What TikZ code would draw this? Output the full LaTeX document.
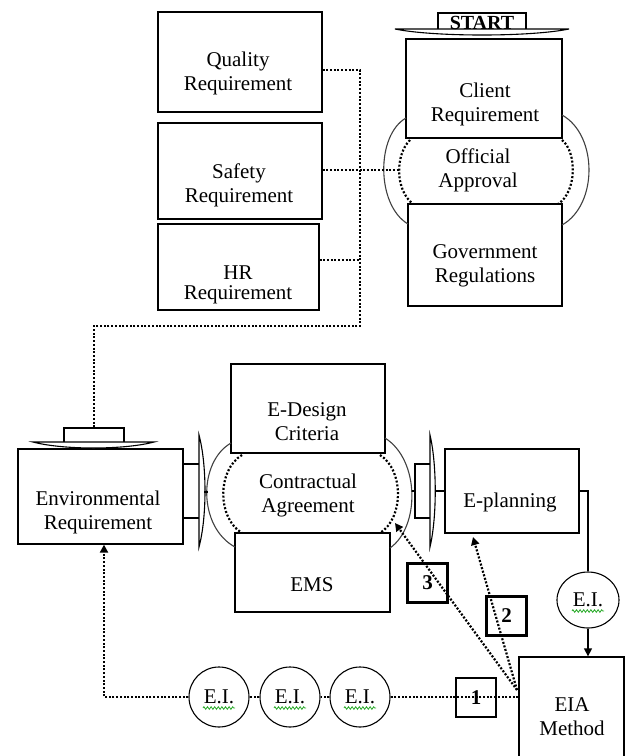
\documentclass[tikz,border=0pt]{standalone}
\usepackage{fontspec}
\setmainfont{Liberation Serif}
\usetikzlibrary{arrows.meta,decorations.pathmorphing,shapes.geometric}
\begin{document}
\begin{tikzpicture}[x=1pt,y=-1pt,
  box/.style={draw=black,line width=1.3pt,rectangle,inner sep=0pt},
  numbox/.style={draw=black,line width=2.5pt,rectangle,inner sep=0pt,minimum width=40pt,minimum height=39pt,font=\fontsize{21}{24}\selectfont\bfseries},
  lbl/.style={align=center,inner sep=0pt,font=\fontsize{21}{24}\selectfont},
  eicirc/.style={draw=black,line width=1.1pt,ellipse,inner sep=0pt,font=\fontsize{21}{24}\selectfont},
  dotline/.style={line width=2.2pt,dash pattern=on 2pt off 1.7pt},
  dotarrow/.style={dotline,-{Triangle[length=8pt,width=8pt]}},
  arcline/.style={line width=1.1pt,draw=black!75},
  arcdot/.style={line width=2.2pt,dash pattern=on 2pt off 1.9pt},
  tabst/.style={draw=black,line width=1.2pt,fill=white,rectangle,inner sep=0pt},
  wing/.style={draw=black,line width=1.1pt,fill=white},
  solidln/.style={line width=1.3pt},
  solidarrow/.style={solidln,-{Triangle[length=8pt,width=8pt]}},
  squig/.style={draw={rgb,255:red,40;green,170;blue,40},line width=0.8pt,decorate,decoration={zigzag,amplitude=1.3pt,segment length=3.6pt}}
]
\useasboundingbox (0,0) rectangle (626,756);

% ---------- boxes ----------
\node[box,minimum width=164pt,minimum height=100pt] (q)   at (240,62) {};
\node[box,minimum width=164pt,minimum height=96pt]  (s)   at (240,171) {};
\node[box,minimum width=161pt,minimum height=86pt]  (hr)  at (238.5,267) {};
\node[box,minimum width=156pt,minimum height=99pt]  (cl)  at (484,88.5) {};
\node[box,minimum width=154pt,minimum height=102pt] (gov) at (485,255) {};
\node[box,minimum width=165pt,minimum height=95pt]  (env) at (100.5,496.5) {};
\node[box,minimum width=154pt,minimum height=89pt]  (ed)  at (308,408.5) {};
\node[box,minimum width=155pt,minimum height=79pt]  (ems) at (312.5,572.5) {};
\node[box,minimum width=134pt,minimum height=84pt]  (ep)  at (512,491) {};
\node[box,minimum width=105pt,minimum height=103pt] (eia) at (571.5,708.5) {};

% ---------- texts ----------
\node[lbl] (qT)   at (238,73)  {Quality\\Requirement};
\node[lbl] (sT)   at (239,185) {Safety\\Requirement};
\node[lbl,font=\fontsize{21}{20}\selectfont] (hrT) at (238,285) {HR\\Requirement};
\node[lbl] (clT)  at (485,104) {Client\\Requirement};
\node[lbl] (oaT)  at (478,170) {Official\\Approval};
\node[lbl] (gvT)  at (485,266) {Government\\Regulations};
\node[lbl] (edT)  at (307,422) {E-Design\\Criteria};
\node[lbl] (caT)  at (308,495) {Contractual\\Agreement};
\node[lbl] (emsT) at (312,585) {EMS};
\node[lbl] (envT) at (98,512)  {Environmental\\Requirement};
\node[lbl] (epT)  at (510,502) {E-planning};
\node[lbl] (eiaT) at (572,717) {EIA\\Method};

% ---------- arcs: Official Approval ----------
\draw[arcline] (406,118) .. controls (376,135) and (376,205) .. (408,224);
\draw[arcdot]  (410,140) .. controls (395,155) and (395,190) .. (413,204);
\draw[arcline] (562,115) .. controls (598,135) and (598,205) .. (562,225);
\draw[arcdot]  (562,140) .. controls (577,152) and (577,192) .. (558,204);
\coordinate (oaDL) at (399,170);

% ---------- arcs: Contractual Agreement ----------
\draw[arcline] (231,443) .. controls (198,462) and (198,527) .. (235,547);
\draw[arcdot]  (242,455) .. controls (217,470) and (217,518) .. (242,533);
\draw[arcline] (385,438) .. controls (420,460) and (420,527) .. (390,548);
\draw[arcdot]  (380,455) .. controls (404,470) and (404,518) .. (380,533);

% ---------- START connector ----------
\node[tabst,minimum width=88pt,minimum height=19pt] (startTab) at (482,22.5) {};
\draw[wing] (395,29) -- (569,29) .. controls (530,37) and (434,37) .. (395,29) -- cycle;
\node[inner sep=0pt,font=\fontsize{20}{24}\selectfont\bfseries] (startT) at (482,23) {START};

% ---------- Environmental top connector ----------
\node[tabst,minimum width=60pt,minimum height=15pt] (envTab) at (94,435.5) {};
\draw[wing] (33,442) -- (154,442) .. controls (124,450) and (63,450) .. (33,442) -- cycle;

% ---------- Environmental right connector ----------
\node[tabst,minimum width=17pt,minimum height=54pt] (envRTab) at (191.5,491) {};
\draw[wing] (199,435) -- (199,547) .. controls (207,517) and (207,465) .. (199,435) -- cycle;
\draw[solidln] (204,492) -- (208,492);

% ---------- Contract right connector ----------
\node[tabst,minimum width=16pt,minimum height=54pt] (cRTab) at (423,491) {};
\draw[wing] (430,435) -- (430,547) .. controls (437,517) and (437,465) .. (430,435) -- cycle;
\draw[solidln] (412,491) -- (cRTab.west);
\draw[solidln] (435,491) -- (ep.west);

% ---------- requirement bus ----------
\coordinate (busTop) at (360,70);
\coordinate (busBot) at (360,326);
\draw[dotline] ([yshift=-8pt]q.east) -- (busTop) -- (busBot) -- (busBot -| envTab.north) -- (envTab.north);
\draw[dotline] ([yshift=7pt]hr.east) -- ([yshift=7pt]hr.east -| busTop);
\draw[dotline] ([yshift=1pt]s.east) -- (oaDL);

% ---------- E.I. circles ----------
\node[eicirc,minimum width=60pt,minimum height=60pt] (c1) at (219,697) {E.I.};
\node[eicirc,minimum width=60pt,minimum height=60pt] (c2) at (290,697) {E.I.};
\node[eicirc,minimum width=60pt,minimum height=60pt] (c3) at (360,697) {E.I.};
\node[eicirc,minimum width=62pt,minimum height=56pt] (c4) at (588,600) {E.I.};
\foreach \c in {c1,c2,c3,c4}
  \draw[squig] ([xshift=-16pt,yshift=-11pt]\c.center) -- ++(32,0);

% ---------- number boxes ----------
\node[numbox] (n1) at (476,697.5) {1};
\node[numbox] (n2) at (506.5,616) {2};
\node[numbox] (n3) at (427.5,583) {3};

% ---------- bottom dotted path ----------
\draw[dotline] (eia.west |- c3) -- (c3);
\draw[dotline] (c3) -- (c2);
\draw[dotline] (c2) -- (c1);
\coordinate (lc) at (104,697);
\draw[dotarrow] (c1) -- (lc) -- (lc |- env.south);

% ---------- feedback arrows ----------
\coordinate (src) at (517,690);
\coordinate (t3) at (395,523);
\coordinate (t2) at (473,537);
\draw[dotarrow] (src) -- (t3);
\draw[dotarrow] (src) -- (t2);

% ---------- E-planning to EIA ----------
\draw[solidln] (ep.east) -- (ep.east -| c4.north) -- (c4.north);
\draw[solidarrow] (c4.south) -- (c4.south |- eia.north);
\end{tikzpicture}
\end{document}
